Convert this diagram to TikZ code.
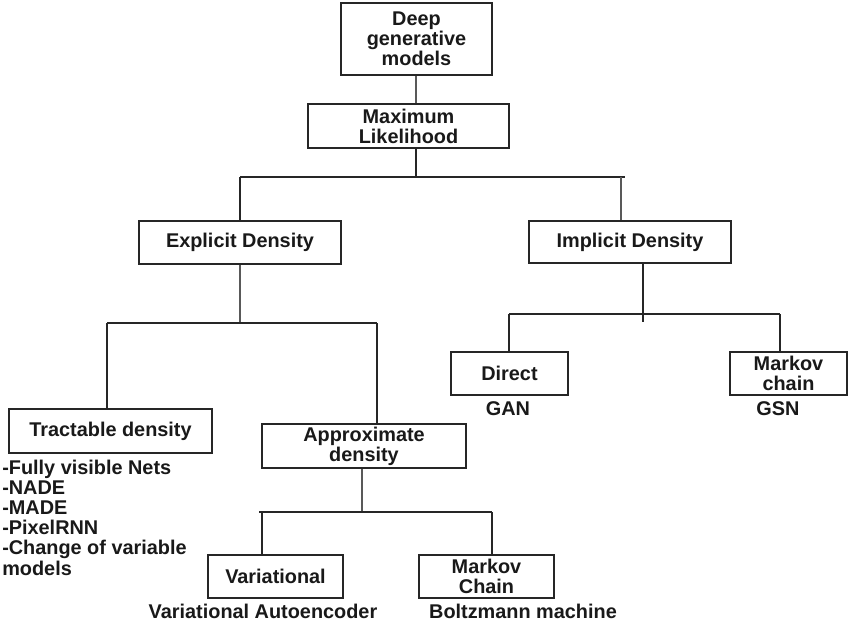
\documentclass[tikz,border=0pt]{standalone}
\usepackage{fontspec}
\setmainfont{Liberation Sans}
\begin{document}
\begin{tikzpicture}[x=0.75pt,y=-0.75pt,
  font=\fontsize{14.9}{15.1}\selectfont\bfseries,
  box/.style={draw=black!85,line width=1.4pt,rectangle,inner sep=0pt,align=center,text=black!90},
  conn/.style={draw=black!85,line width=1.4pt},
  gconn/.style={draw=black!65,line width=1.5pt},
  lbl/.style={inner sep=0pt,text=black!90},
  item/.style={inner sep=0pt,anchor=base west,text=black!90}]
\useasboundingbox (0,0) rectangle (850,621);
\fill[white] (0,0) rectangle (850,621);

% boxes
\node[box,minimum width=113.25pt,minimum height=54pt] (deep) at (416.5,39) {Deep\\generative\\models};
\node[box,minimum width=150.75pt,minimum height=33pt] (ml) at (408.5,126) {Maximum\\Likelihood};
\node[box,minimum width=151.5pt,minimum height=32.25pt] (expl) at (240,242.5) {Explicit Density};
\node[box,minimum width=151.5pt,minimum height=31.5pt] (impl) at (630,242) {Implicit Density};
\node[box,minimum width=152.25pt,minimum height=33pt] (tract) at (110.5,431) {Tractable density};
\node[box,minimum width=153pt,minimum height=33pt] (approx) at (364,446) {Approximate\\density};
\node[box,minimum width=87.75pt,minimum height=32.25pt] (direct) at (509.5,373.5) {Direct};
\node[box,minimum width=87.75pt,minimum height=32.25pt] (mkc) at (788.5,373.5) {Markov\\chain};
\node[box,minimum width=101.25pt,minimum height=32.25pt] (var) at (275.5,576.5) {Variational};
\node[box,minimum width=101.25pt,minimum height=32.25pt] (mkC) at (486.5,576.5) {Markov\\Chain};

% junction coordinates
\coordinate (j0) at (416,177);
\coordinate (j0l) at (240,177);
\coordinate (j0r) at (621,177);
\coordinate (j0e) at (625,177);
\coordinate (j1) at (240,323);
\coordinate (j1l) at (107,323);
\coordinate (j1r) at (377,323);
\coordinate (j2) at (643,314);
\coordinate (j2b) at (643,322);
\coordinate (j2l) at (509,314);
\coordinate (j2r) at (780,314);
\coordinate (j3) at (362,512);
\coordinate (j3l) at (262,512);
\coordinate (j3s) at (259,512);
\coordinate (j3r) at (492,512);

% connectors
\draw[gconn] (deep.south -| j0) -- (ml.north -| j0);
\draw[conn] (ml.south -| j0) -- (j0);
\draw[conn] (j0l) -- (j0e);
\draw[conn] (j0l) -- (expl.north);
\draw[gconn] (j0r) -- (impl.north -| j0r);
\draw[gconn] (expl.south) -- (j1);
\draw[conn] (j1l) -- (j1r);
\draw[conn] (j1l) -- (tract.north -| j1l);
\draw[conn] (j1r) -- (approx.north -| j1r);
\draw[conn] (impl.south -| j2) -- (j2b);
\draw[conn] (j2l) -- (j2r);
\draw[conn] (j2l) -- (direct.north -| j2l);
\draw[conn] (j2r) -- (mkc.north -| j2r);
\draw[gconn] (approx.south -| j3) -- (j3);
\draw[conn] (j3s) -- (j3r);
\draw[conn] (j3l) -- (var.north -| j3l);
\draw[conn] (j3r) -- (mkC.north -| j3r);

% labels
\node[lbl] (gan) at (508,409) {GAN};
\node[lbl] (gsn) at (778,409) {GSN};
\node[lbl] (vae) at (263,611) {Variational Autoencoder};
\node[lbl] (bm) at (523,611) {Boltzmann machine};

\node[item] (t1) at (2,474) {-Fully visible Nets};
\node[item] (t2) at (2,494.2) {-NADE};
\node[item] (t3) at (2,514.4) {-MADE};
\node[item] (t4) at (2,534.6) {-PixelRNN};
\node[item] (t5) at (2,554.8) {-Change of variable};
\node[item] (t6) at (2,575) {models};
\end{tikzpicture}
\end{document}
